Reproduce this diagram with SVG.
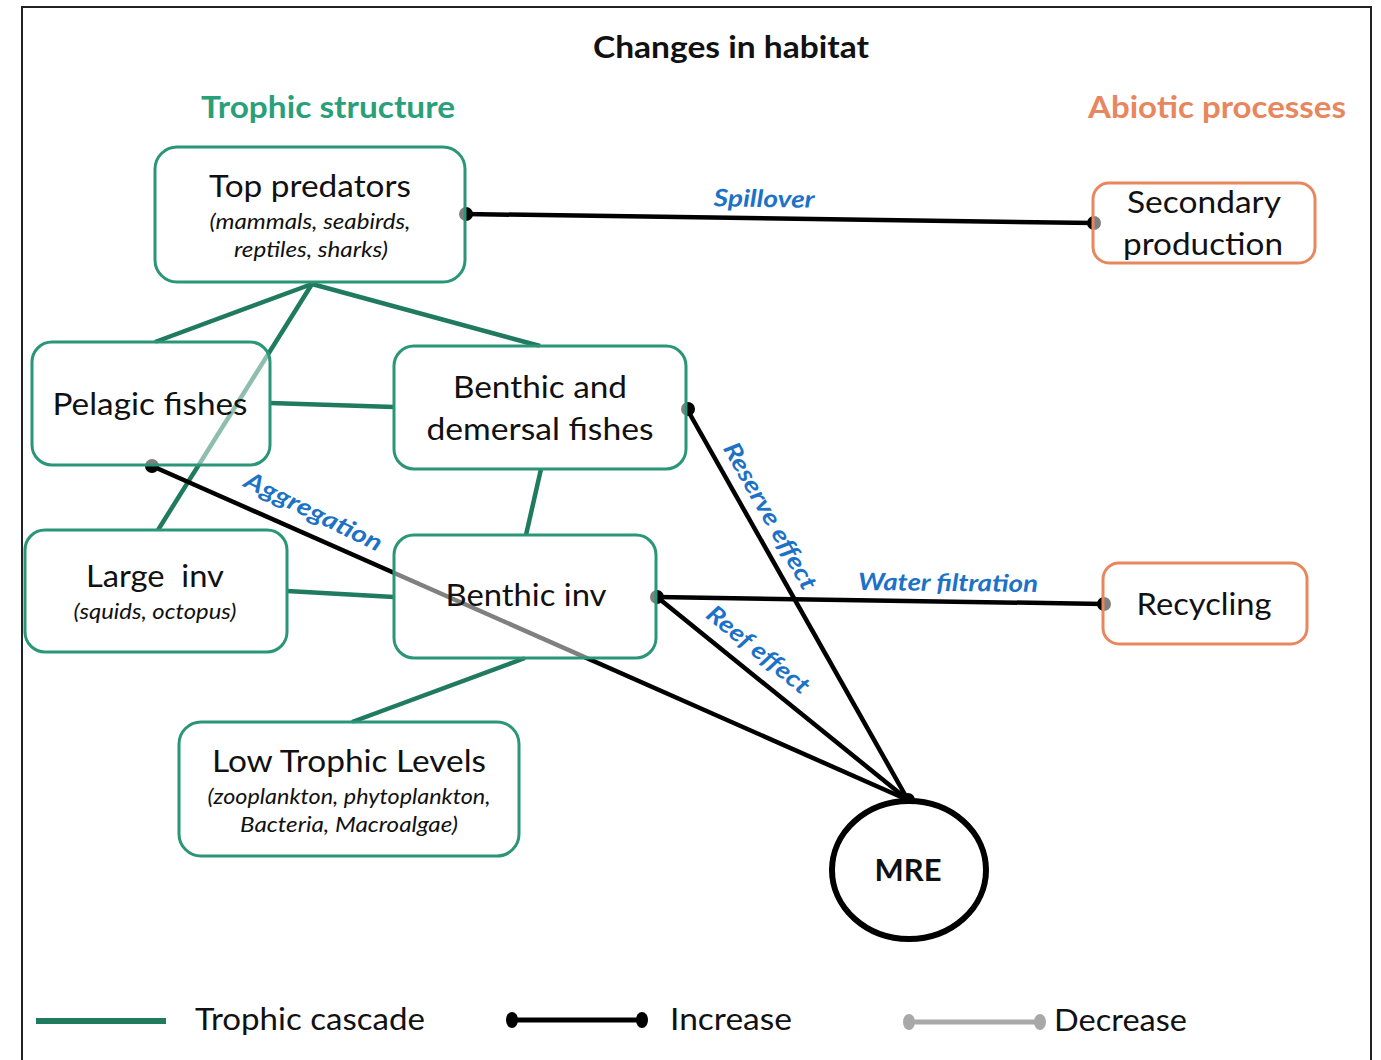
<svg xmlns="http://www.w3.org/2000/svg" width="1381" height="1060" viewBox="0 0 1381 1060">
<style>
.t{font-family:Lato,"Open Sans","Liberation Sans",sans-serif;fill:#111}
.main{font-size:30px}
.sub{font-size:21px;font-style:italic}
.hdr{font-size:30px;font-weight:bold}
.lbl{font-size:24px;font-weight:bold;font-style:italic;fill:#1c72c6}
.gbox{fill:#fff;fill-opacity:0.5;stroke:#2a9677;stroke-width:3}
.obox{fill:#fff;fill-opacity:0.5;stroke:#e8875e;stroke-width:3}
.tc{stroke:#1f7a5e;stroke-width:4.5;fill:none}
.inc{stroke:#000;stroke-width:4.5;fill:none}
.dot{fill:#000}
</style>
<rect x="22" y="7" width="1349" height="1070" fill="#fff" stroke="#222" stroke-width="2"/>
<text class="t hdr" x="731" y="58" text-anchor="middle" textLength="276" lengthAdjust="spacingAndGlyphs">Changes in habitat</text>
<text class="t hdr" x="328" y="118" text-anchor="middle" style="fill:#2aa07a" textLength="254" lengthAdjust="spacingAndGlyphs">Trophic structure</text>
<text class="t hdr" x="1217" y="118" text-anchor="middle" style="fill:#e8875e" textLength="258" lengthAdjust="spacingAndGlyphs">Abiotic processes</text>
<g id="connectors">
<line class="tc" x1="312" y1="284" x2="155" y2="342"/>
<line class="tc" x1="312" y1="284" x2="540" y2="346"/>
<line class="tc" x1="312" y1="284" x2="158" y2="530"/>
<line class="tc" x1="270" y1="403" x2="394" y2="407"/>
<line class="tc" x1="541" y1="469" x2="526" y2="535"/>
<line class="tc" x1="287" y1="591" x2="394" y2="597"/>
<line class="tc" x1="525" y1="658" x2="352" y2="722"/>
<line class="inc" x1="465" y1="214" x2="1094" y2="223"/>
<line class="inc" x1="152" y1="466" x2="908" y2="800"/>
<line class="inc" x1="687" y1="409" x2="908" y2="800"/>
<line class="inc" x1="657" y1="597" x2="1104" y2="604"/>
<line class="inc" x1="657" y1="597" x2="908" y2="800"/>
<circle class="dot" cx="466" cy="214" r="7"/>
<circle class="dot" cx="1094" cy="223" r="7"/>
<circle class="dot" cx="152" cy="466" r="7"/>
<circle class="dot" cx="688" cy="409" r="7"/>
<circle class="dot" cx="657" cy="597" r="7"/>
<circle class="dot" cx="1104" cy="604" r="7"/>
<circle class="dot" cx="908" cy="800" r="7"/>
<text class="t lbl" transform="translate(764,207) rotate(0.8)" text-anchor="middle" textLength="101" lengthAdjust="spacingAndGlyphs">Spillover</text>
<text class="t lbl" transform="translate(310,519) rotate(26)" text-anchor="middle" textLength="150" lengthAdjust="spacingAndGlyphs">Aggregation</text>
<text class="t lbl" transform="translate(763,520) rotate(60.5)" text-anchor="middle" textLength="165" lengthAdjust="spacingAndGlyphs">Reserve effect</text>
<text class="t lbl" transform="translate(948,591) rotate(0.6)" text-anchor="middle" textLength="180" lengthAdjust="spacingAndGlyphs">Water filtration</text>
<text class="t lbl" transform="translate(753,656) rotate(39)" text-anchor="middle" textLength="125" lengthAdjust="spacingAndGlyphs">Reef effect</text>
</g>
<g id="top-predators">
<rect class="gbox" x="155" y="147" width="310" height="135" rx="22"/>
<text class="t main" x="310" y="197" text-anchor="middle" textLength="202" lengthAdjust="spacingAndGlyphs">Top predators</text>
<text class="t sub" x="310" y="229" text-anchor="middle" textLength="201" lengthAdjust="spacingAndGlyphs">(mammals, seabirds,</text>
<text class="t sub" x="311" y="257" text-anchor="middle" textLength="154" lengthAdjust="spacingAndGlyphs">reptiles, sharks)</text>
</g>
<g id="pelagic-fishes">
<rect class="gbox" x="32" y="342" width="238" height="123" rx="20"/>
<text class="t main" x="150" y="415" text-anchor="middle" textLength="195" lengthAdjust="spacingAndGlyphs">Pelagic fishes</text>
</g>
<g id="benthic-demersal">
<rect class="gbox" x="394" y="346" width="292" height="123" rx="20"/>
<text class="t main" x="540" y="398" text-anchor="middle" textLength="174" lengthAdjust="spacingAndGlyphs">Benthic and</text>
<text class="t main" x="540" y="440" text-anchor="middle" textLength="227" lengthAdjust="spacingAndGlyphs">demersal fishes</text>
</g>
<g id="large-inv">
<rect class="gbox" x="25" y="530" width="262" height="122" rx="20"/>
<text class="t main" x="155" y="587" text-anchor="middle" textLength="138" lengthAdjust="spacingAndGlyphs" xml:space="preserve">Large  inv</text>
<text class="t sub" x="155" y="619" text-anchor="middle" textLength="163" lengthAdjust="spacingAndGlyphs">(squids, octopus)</text>
</g>
<g id="benthic-inv">
<rect class="gbox" x="394" y="535" width="262" height="123" rx="20"/>
<text class="t main" x="526" y="606" text-anchor="middle" textLength="161" lengthAdjust="spacingAndGlyphs">Benthic inv</text>
</g>
<g id="low-trophic">
<rect class="gbox" x="179" y="722" width="340" height="134" rx="22"/>
<text class="t main" x="349" y="772" text-anchor="middle" textLength="274" lengthAdjust="spacingAndGlyphs">Low Trophic Levels</text>
<text class="t sub" x="349" y="804" text-anchor="middle" textLength="283" lengthAdjust="spacingAndGlyphs">(zooplankton, phytoplankton,</text>
<text class="t sub" x="349" y="832" text-anchor="middle" textLength="218" lengthAdjust="spacingAndGlyphs">Bacteria, Macroalgae)</text>
</g>
<g id="secondary-production">
<rect class="obox" x="1093" y="183" width="222" height="80" rx="16"/>
<text class="t main" x="1204" y="213" text-anchor="middle" textLength="154" lengthAdjust="spacingAndGlyphs">Secondary</text>
<text class="t main" x="1203" y="255" text-anchor="middle" textLength="160" lengthAdjust="spacingAndGlyphs">production</text>
</g>
<g id="recycling">
<rect class="obox" x="1103" y="563" width="204" height="81" rx="16"/>
<text class="t main" x="1204" y="615" text-anchor="middle" textLength="135" lengthAdjust="spacingAndGlyphs">Recycling</text>
</g>
<g id="mre">
<ellipse cx="909" cy="870" rx="77" ry="69" fill="#fff" stroke="#000" stroke-width="6"/>
<text class="t" x="908" y="881" text-anchor="middle" style="font-size:30px;font-weight:bold" textLength="67" lengthAdjust="spacingAndGlyphs">MRE</text>
</g>
<g id="legend">
<line x1="36" y1="1021" x2="166" y2="1021" stroke="#1f7a5e" stroke-width="6"/>
<text class="t main" x="195" y="1030" textLength="230" lengthAdjust="spacingAndGlyphs">Trophic cascade</text>
<line x1="512" y1="1020" x2="642" y2="1020" stroke="#000" stroke-width="5"/>
<ellipse cx="512" cy="1020" rx="6" ry="8" fill="#000"/>
<ellipse cx="642" cy="1020" rx="6" ry="8" fill="#000"/>
<text class="t main" x="670" y="1030" textLength="122" lengthAdjust="spacingAndGlyphs">Increase</text>
<line x1="909" y1="1022" x2="1040" y2="1022" stroke="#a8a8a8" stroke-width="5"/>
<ellipse cx="909" cy="1022" rx="6" ry="8" fill="#a8a8a8"/>
<ellipse cx="1040" cy="1022" rx="6" ry="8" fill="#a8a8a8"/>
<text class="t main" x="1054" y="1031" textLength="133" lengthAdjust="spacingAndGlyphs">Decrease</text>
</g>
</svg>
